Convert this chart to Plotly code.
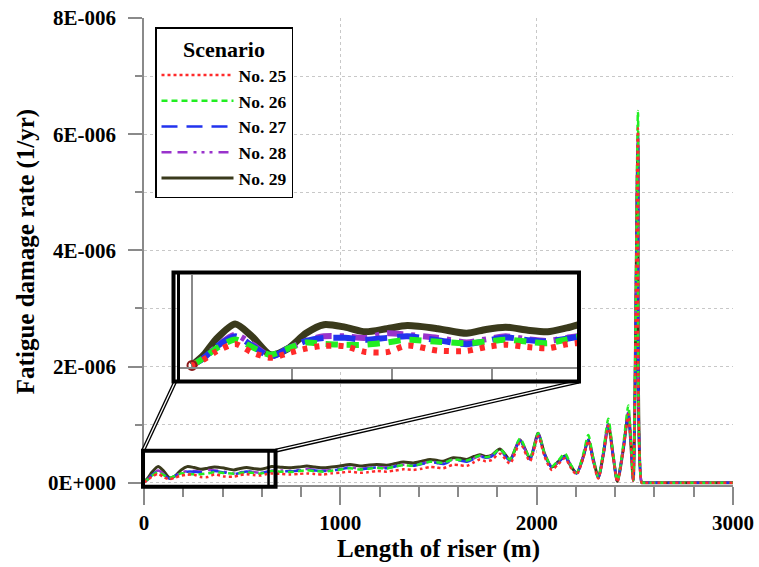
import plotly.graph_objects as go

# ---------------- data (fatigue damage rate in units of 1E-6 1/yr) ----------------
X_M = [0, 20, 40, 72, 100, 131, 160, 190, 220, 255, 289, 325, 359, 410, 458, 490, 523, 560, 593, 625, 651,
       700, 744, 790, 829, 870, 913, 955, 998, 1049, 1100, 1140, 1185, 1236, 1280, 1321, 1372, 1415, 1457, 1490, 1524,
       1575, 1610, 1644, 1680, 1711, 1740, 1770, 1813, 1864, 1915, 1966, 2008, 2040, 2077, 2110, 2144, 2175, 2204, 2235, 2263,
       2290, 2314, 2340, 2365, 2390, 2411, 2440, 2467, 2480, 2492, 2516, 2535, 2545, 3000]

NO25 = [0.01, 0.05, 0.10, 0.15, 0.095, 0.06, 0.09, 0.12, 0.138, 0.135, 0.098, 0.097, 0.14, 0.107, 0.105, 0.13, 0.145, 0.13, 0.122, 0.148, 0.158,
        0.15, 0.14, 0.15, 0.16, 0.15, 0.14, 0.16, 0.17, 0.19, 0.17, 0.18, 0.20, 0.19, 0.21, 0.23, 0.22, 0.24, 0.27, 0.26, 0.25,
        0.31, 0.30, 0.29, 0.35, 0.40, 0.37, 0.39, 0.50, 0.33, 0.68, 0.37, 0.80, 0.45, 0.22, 0.32, 0.42, 0.25, 0.14, 0.40, 0.72,
        0.33, 0.07, 0.48, 0.98, 0.43, 0.01, 0.53, 1.18, 0.65, 0.03, 6.10, 0.0, 0.0, 0.0]
NO26 = [0.01, 0.06, 0.12, 0.18, 0.13, 0.08, 0.12, 0.16, 0.15, 0.145, 0.145, 0.16, 0.178, 0.165, 0.155, 0.165, 0.178, 0.165, 0.155, 0.18, 0.20,
        0.19, 0.185, 0.20, 0.215, 0.20, 0.19, 0.205, 0.225, 0.25, 0.225, 0.24, 0.255, 0.245, 0.28, 0.30, 0.29, 0.33, 0.36, 0.35, 0.34,
        0.40, 0.39, 0.38, 0.43, 0.47, 0.44, 0.46, 0.58, 0.40, 0.76, 0.43, 0.85, 0.50, 0.28, 0.38, 0.50, 0.30, 0.17, 0.46, 0.82,
        0.38, 0.09, 0.55, 1.10, 0.48, 0.02, 0.62, 1.33, 0.72, 0.04, 6.40, 0.0, 0.0, 0.0]
NO27 = [0.01, 0.06, 0.13, 0.20, 0.14, 0.068, 0.12, 0.17, 0.19, 0.19, 0.178, 0.19, 0.20, 0.175, 0.149, 0.17, 0.193, 0.175, 0.166, 0.185, 0.20,
        0.20, 0.195, 0.21, 0.225, 0.21, 0.20, 0.21, 0.23, 0.255, 0.23, 0.245, 0.26, 0.25, 0.28, 0.30, 0.29, 0.32, 0.35, 0.34, 0.32,
        0.39, 0.38, 0.36, 0.41, 0.45, 0.43, 0.45, 0.55, 0.38, 0.72, 0.40, 0.83, 0.48, 0.26, 0.34, 0.45, 0.28, 0.16, 0.42, 0.74,
        0.35, 0.08, 0.50, 1.00, 0.45, 0.02, 0.56, 1.20, 0.66, 0.04, 6.00, 0.0, 0.0, 0.0]
NO28 = [0.01, 0.06, 0.13, 0.21, 0.15, 0.07, 0.12, 0.17, 0.20, 0.20, 0.19, 0.22, 0.21, 0.19, 0.16, 0.18, 0.20, 0.18, 0.17, 0.19, 0.205,
        0.21, 0.205, 0.22, 0.235, 0.22, 0.21, 0.22, 0.24, 0.265, 0.24, 0.255, 0.27, 0.26, 0.29, 0.31, 0.30, 0.33, 0.36, 0.35, 0.33,
        0.40, 0.39, 0.37, 0.42, 0.46, 0.44, 0.46, 0.56, 0.39, 0.73, 0.41, 0.84, 0.49, 0.27, 0.35, 0.46, 0.29, 0.16, 0.43, 0.75,
        0.36, 0.08, 0.51, 1.02, 0.46, 0.02, 0.57, 1.22, 0.67, 0.04, 5.95, 0.0, 0.0, 0.0]
NO29 = [0.01, 0.08, 0.18, 0.28, 0.20, 0.08, 0.12, 0.22, 0.276, 0.26, 0.23, 0.25, 0.27, 0.25, 0.22, 0.245, 0.26, 0.24, 0.23, 0.255, 0.28,
        0.265, 0.257, 0.27, 0.286, 0.27, 0.257, 0.27, 0.286, 0.313, 0.286, 0.30, 0.313, 0.30, 0.33, 0.354, 0.34, 0.37, 0.40, 0.385, 0.37,
        0.43, 0.42, 0.40, 0.45, 0.48, 0.45, 0.47, 0.58, 0.40, 0.74, 0.42, 0.85, 0.50, 0.27, 0.36, 0.46, 0.28, 0.17, 0.42, 0.74,
        0.38, 0.09, 0.50, 1.00, 0.45, 0.02, 0.55, 1.20, 0.65, 0.04, 5.80, 0.0, 0.0, 0.0]

SCENARIOS = ["No. 25", "No. 26", "No. 27", "No. 28", "No. 29"]
Y_TICKS = [0, 2, 4, 6, 8]
Y_TICKTEXT = ["0E+000", "2E-006", "4E-006", "6E-006", "8E-006"]
X_TICKS = [0, 1000, 2000, 3000]

ZOOM_X = [-5, 670]          # zoomed region (m)
ZOOM_Y = [-0.07, 0.55]      # zoomed region (1E-6)
INSET_X = [-20, 642]
INSET_Y = [0, 0.6]
INSET_TICKS = [167, 333, 500]

for s in (NO25, NO26, NO27, NO28, NO29):
    assert len(s) == len(X_M)

# ---------------- styles ----------------
FONT = "Liberation Serif, Times New Roman, serif"
STY = {
    "No. 25": dict(color="#ff2a2a", dash="dot", width=2.5, idash="5px,7px", iw=6),
    "No. 26": dict(color="#22ee22", dash="6px,4px", width=2.5, idash="12px,9px", iw=6),
    "No. 27": dict(color="#2233ee", dash="16px,9px", width=2.5, idash="22px,10px", iw=6),
    "No. 28": dict(color="#9933cc", dash="10px,6px,10px,6px,3px,5px,3px,5px,3px,6px", width=2.5,
                   idash="16px,8px,4px,8px", iw=6),
    "No. 29": dict(color="#3a3a1c", dash="solid", width=3, idash="solid", iw=7),
}
DATA = {"No. 25": NO25, "No. 26": NO26, "No. 27": NO27, "No. 28": NO28, "No. 29": NO29}

fig = go.Figure()
order = ["No. 29", "No. 28", "No. 27", "No. 26", "No. 25"]
for name in order:
    st = STY[name]
    fig.add_trace(go.Scatter(
        x=X_M, y=DATA[name], mode="lines", name=name,
        line=dict(color=st["color"], width=st["width"], dash=st["dash"], shape="spline", smoothing=0.7),
        legendrank=SCENARIOS.index(name) + 1,
        xaxis="x", yaxis="y"))
for name in order:
    st = STY[name]
    fig.add_trace(go.Scatter(
        x=X_M, y=DATA[name], mode="lines", showlegend=False,
        line=dict(color=st["color"], width=st["iw"], dash=st["idash"], shape="spline", smoothing=0.7),
        xaxis="x2", yaxis="y2"))
fig.add_trace(go.Scatter(
    x=X_M[:1], y=NO25[:1], mode="markers", showlegend=False,
    marker=dict(symbol="circle-open", size=9, color="#8b1a1a", line=dict(width=2)),
    xaxis="x2", yaxis="y2", cliponaxis=False))

# ---------------- layout ----------------
XR = [0, 3000]
YR = [-0.04, 8.0]
GREY = "#8a8a8a"

fig.update_layout(
    width=759, height=567,
    margin=dict(l=144, r=26, t=18, b=82, autoexpand=False),
    paper_bgcolor="white", plot_bgcolor="white",
    font=dict(family=FONT, size=21, color="black", weight="bold"),
    xaxis=dict(
        range=XR, tickvals=X_TICKS, ticks="outside", ticklen=18, tickwidth=1.5, tickcolor=GREY,
        showline=True, linecolor=GREY, linewidth=1.5, mirror=False, automargin=False,
        showgrid=True, gridcolor="#c8c8c8", griddash="dot", gridwidth=1,
        zeroline=False,
        minor=dict(dtick=200, tick0=0, ticks="outside", ticklen=10, tickwidth=1.5, tickcolor=GREY, showgrid=False),
        tickfont=dict(size=21, family=FONT, weight="bold"),
        title=dict(text="Length of riser (m)", font=dict(size=25, family=FONT, weight="bold"), standoff=4),
    ),
    yaxis=dict(
        range=YR, tickvals=Y_TICKS, ticktext=Y_TICKTEXT, ticks="outside", ticklen=14, tickwidth=1.5,
        tickcolor=GREY, showline=True, linecolor=GREY, linewidth=1.5, mirror=False, automargin=False,
        showgrid=True, gridcolor="#c8c8c8", griddash="dot", gridwidth=1, zeroline=False,
        minor=dict(dtick=1, tick0=0, ticks="outside", ticklen=7, tickwidth=1.5, tickcolor=GREY,
                   showgrid=True, gridcolor="#c8c8c8", griddash="dot", gridwidth=1),
        ticklabelstandoff=8,
        tickfont=dict(size=21, family=FONT, weight="bold"),
        title=dict(text="Fatigue damage rate (1/yr)", font=dict(size=25, family=FONT, weight="bold"), standoff=6),
    ),
    xaxis2=dict(
        domain=[(180 - 144) / 589, (577 - 144) / 589], range=INSET_X, anchor="y2", automargin=False,
        tickvals=INSET_TICKS, showticklabels=False, ticks="outside", ticklen=12, tickwidth=1.5, tickcolor=GREY,
        showline=True, linecolor=GREY, linewidth=1.5, showgrid=False,
        zeroline=True, zerolinecolor=GREY, zerolinewidth=1.5,
    ),
    yaxis2=dict(
        domain=[(485 - 367) / 467, (485 - 275) / 467], range=INSET_Y, anchor="x2", automargin=False,
        showticklabels=False, ticks="", showline=False, showgrid=False, zeroline=False,
    ),
    legend=dict(
        x=(155 - 144) / 589, y=(485 - 27) / 467, xanchor="left", yanchor="top",
        bgcolor="white", bordercolor="black", borderwidth=1.5,
        font=dict(family=FONT, size=17.5, weight="bold"),
        title=dict(text="Scenario", side="top center", font=dict(family=FONT, size=22, weight="bold")),
        itemwidth=72, tracegroupgap=0,
    ),
)

# ---------------- zoom box, inset frame and connectors ----------------
def px_(x):
    return (x - XR[0]) / (XR[1] - XR[0])

def py_(y):
    return (y - YR[0]) / (YR[1] - YR[0])

zx0, zx1 = px_(ZOOM_X[0]), px_(ZOOM_X[1])
zy0, zy1 = py_(ZOOM_Y[0]), py_(ZOOM_Y[1])
# inset frame in paper units
ix0, ix1 = (173.5 - 144) / 589, (579 - 144) / 589
iy0, iy1 = (485 - 381.5) / 467, (485 - 272.5) / 467
ix0b = (178.5 - 144) / 589

shapes = []
# connectors (double line look)
for (a, b, c, d) in [(zx0, zy1, ix0 + 0.003, iy0), (zx1, zy1, ix1, iy0)]:
    shapes.append(dict(type="line", xref="paper", yref="paper", x0=a, y0=b, x1=c, y1=d,
                       line=dict(color="black", width=4), layer="above"))
    shapes.append(dict(type="line", xref="paper", yref="paper", x0=a, y0=b, x1=c, y1=d,
                       line=dict(color="white", width=1.3), layer="above"))
# zoom box
shapes.append(dict(type="rect", xref="paper", yref="paper", x0=zx0, y0=zy0, x1=zx1, y1=zy1,
                   line=dict(color="black", width=4), layer="above"))
shapes.append(dict(type="line", xref="paper", yref="paper", x0=px_(ZOOM_X[1]) - 7 / 589, y0=zy0,
                   x1=px_(ZOOM_X[1]) - 7 / 589, y1=zy1, line=dict(color="black", width=2.5), layer="above"))
# inset frame
shapes.append(dict(type="rect", xref="paper", yref="paper", x0=ix0, y0=iy0, x1=ix1, y1=iy1,
                   line=dict(color="black", width=4), layer="above"))
shapes.append(dict(type="line", xref="paper", yref="paper", x0=ix0b, y0=iy0, x1=ix0b, y1=iy1,
                   line=dict(color="black", width=3), layer="above"))
fig.update_layout(shapes=shapes)

fig.write_html("out.html")
